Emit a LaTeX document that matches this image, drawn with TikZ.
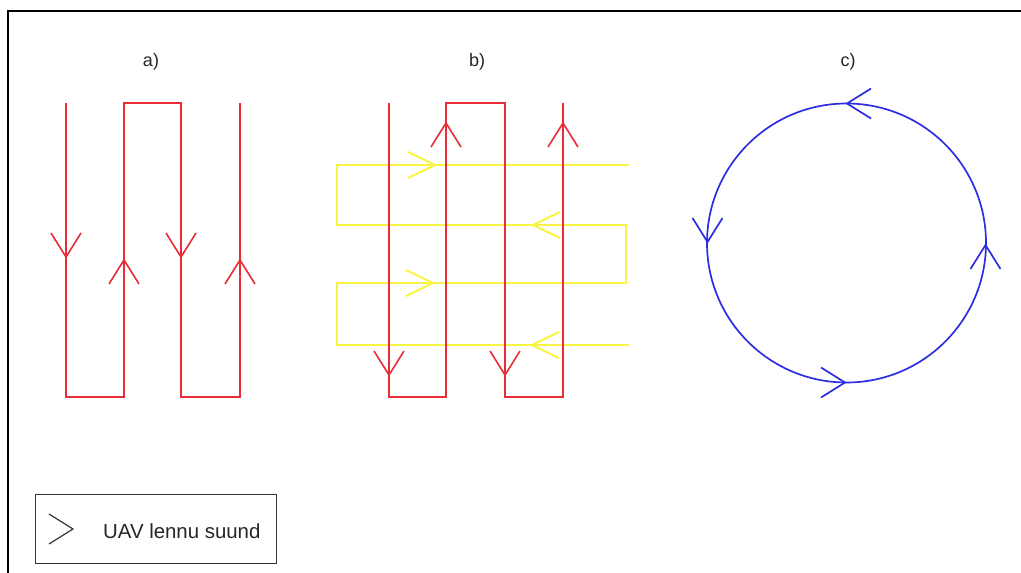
\documentclass[tikz,border=0pt]{standalone}
\usepackage{fontspec}
\setmainfont{Liberation Sans}
\definecolor{pathred}{RGB}{232,45,55}
\definecolor{pathyellow}{RGB}{248,244,70}
\definecolor{pathblue}{RGB}{45,45,225}
\tikzset{
  redpath/.style={draw=pathred,line width=1.6pt},
  yellowpath/.style={draw=pathyellow,line width=2pt},
  bluepath/.style={draw=pathblue,line width=1.7pt},
  chev/.pic={\draw[pic actions] (-24,-15) -- (0,0) -- (-24,15);},
  ychev/.pic={\draw[pic actions] (-27,-13) -- (0,0) -- (-27,13);},
  lbl/.style={font=\fontsize{18}{20}\selectfont,text=black!85,inner sep=0pt},
}
\begin{document}
\begin{tikzpicture}[x=1pt,y=-1pt]
\useasboundingbox (0,0) rectangle (1021,573);
% frame (left and top edges visible)
\coordinate (fbl) at (8,573);
\coordinate (ftl) at (8,11);
\coordinate (ftr) at (1021,11);
\draw[line width=2.5pt,line cap=butt] (fbl) -- (ftl) -- (ftr);
% labels
\node[lbl] (la) at (151,62) {a)};
\node[lbl] (lb) at (477,62) {b)};
\node[lbl] (lc) at (848,62) {c)};
% a)
\draw[redpath] (66,103) -- (66,397) -- (124,397) -- (124,103) -- (181,103) -- (181,397) -- (240,397) -- (240,103);
\pic[redpath,rotate=-90] at (66,257) {chev};
\pic[redpath,rotate=90] at (124,260) {chev};
\pic[redpath,rotate=-90] at (181,257) {chev};
\pic[redpath,rotate=90] at (240,260) {chev};
% b) yellow
\draw[yellowpath] (629,345) -- (337,345) -- (337,283) -- (626,283) -- (626,225) -- (337,225) -- (337,165) -- (629,165);
\pic[yellowpath] at (435,165) {ychev};
\pic[yellowpath,rotate=180] at (533,225) {ychev};
\pic[yellowpath] at (433,283) {ychev};
\pic[yellowpath,rotate=180] at (532,345) {ychev};
% b) red
\draw[redpath] (389,103) -- (389,397) -- (446,397) -- (446,103) -- (505,103) -- (505,397) -- (563,397) -- (563,103);
\pic[redpath,rotate=-90] at (389,375) {chev};
\pic[redpath,rotate=90] at (446,123) {chev};
\pic[redpath,rotate=-90] at (505,375) {chev};
\pic[redpath,rotate=90] at (563,123) {chev};
% c)
\coordinate (cc) at (846.5,243);
\draw[bluepath] (cc) circle[radius=139.5];
\pic[bluepath,rotate=180] at (847,103.5) {chev};
\pic[bluepath,rotate=-90] at (707.5,242) {chev};
\pic[bluepath] at (845,382.5) {chev};
\pic[bluepath,rotate=90] at (985.5,245) {chev};
% legend
\node[draw=black!80,line width=1pt,minimum width=241pt,minimum height=69pt,inner sep=0pt] (legend) at (155.5,528.5) {};
\pic[draw=black!80,line width=1.2pt] at (73,529) {chev};
\node[lbl,anchor=base west,font=\fontsize{20.4}{22}\selectfont] (legtext) at (103,538) {UAV lennu suund};
\end{tikzpicture}
\end{document}
